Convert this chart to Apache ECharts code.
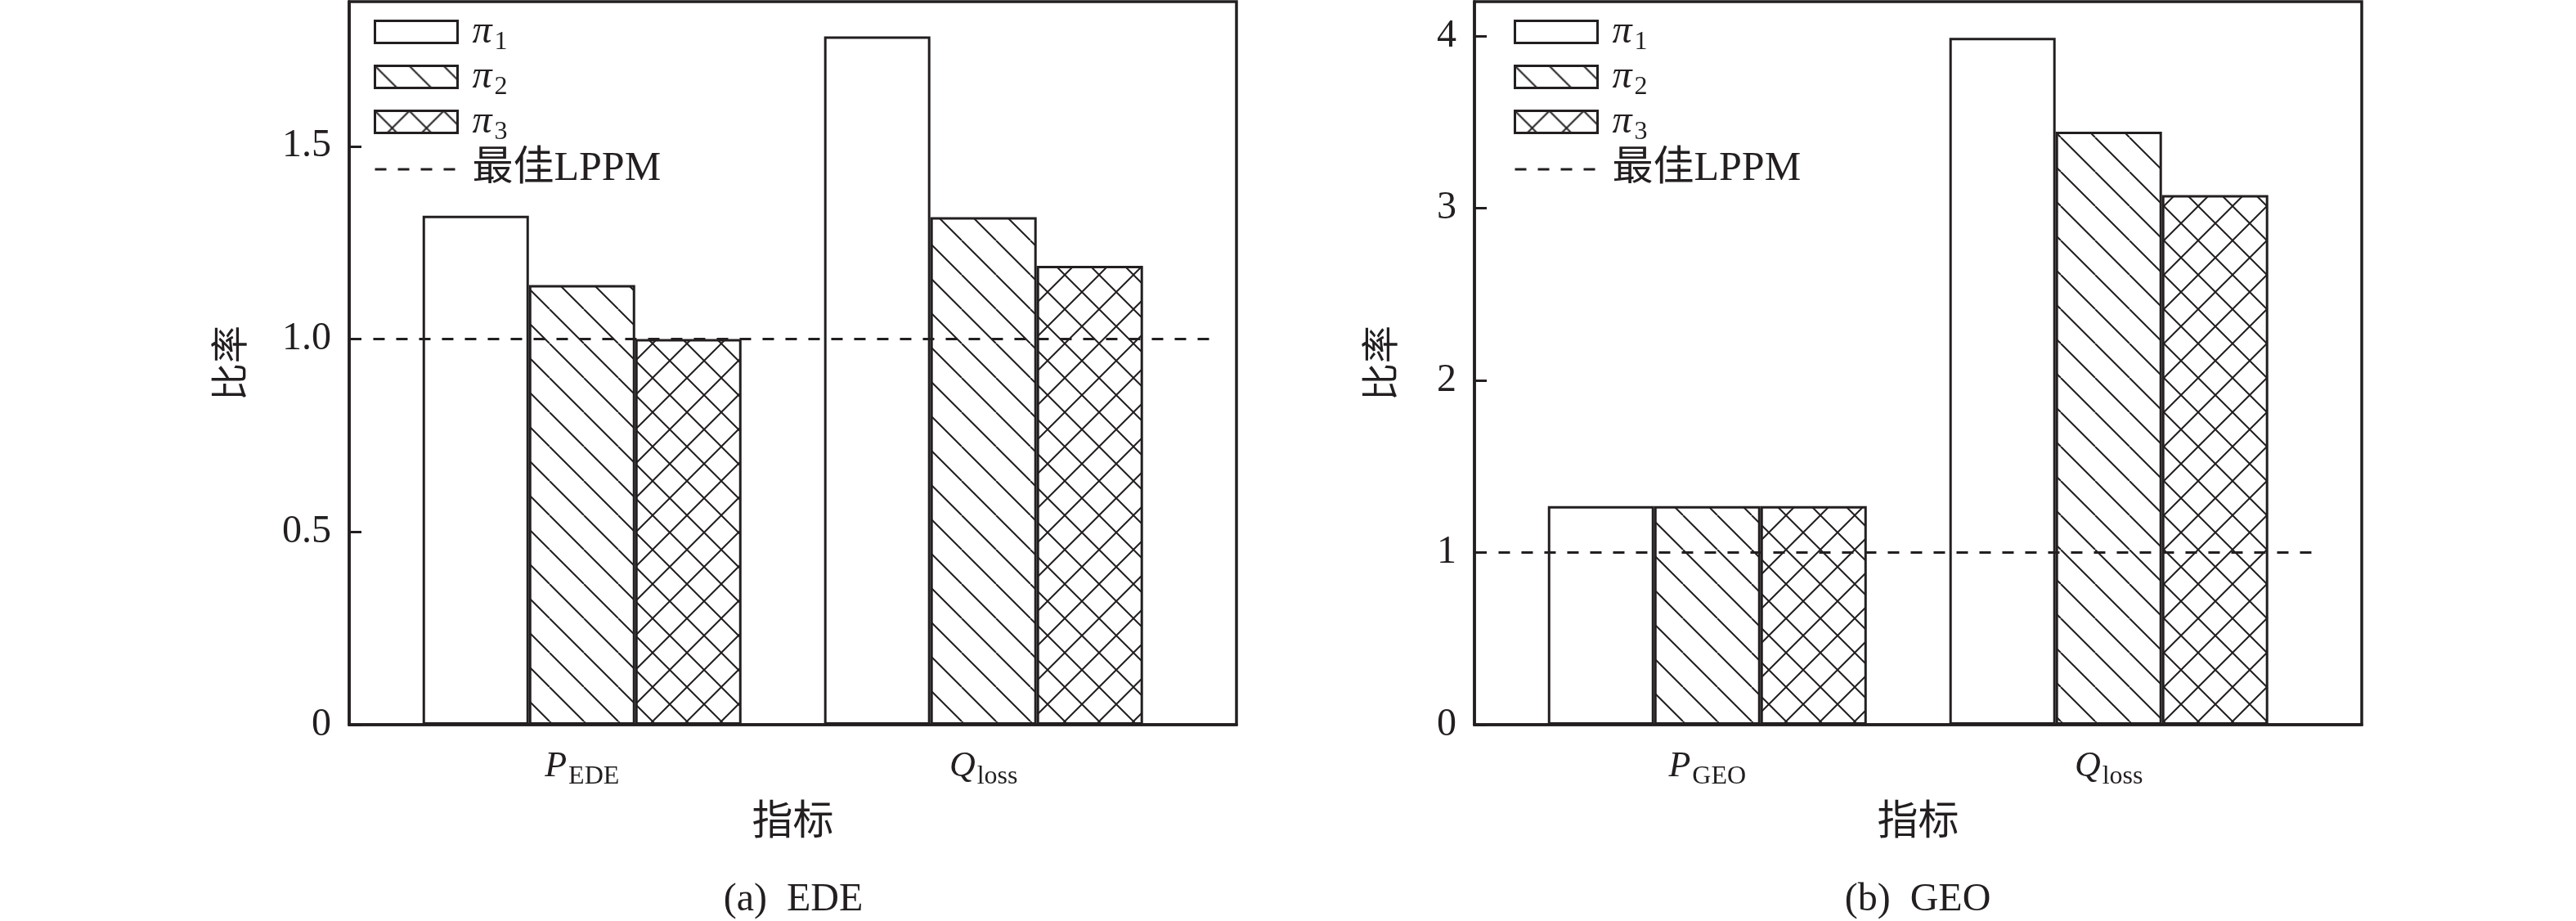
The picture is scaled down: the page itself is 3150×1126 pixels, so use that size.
<!DOCTYPE html>
<html>
<head>
<meta charset="utf-8">
<script src="https://cdn.jsdelivr.net/npm/echarts@6/dist/echarts.min.js"></script>
<style>
html,body{margin:0;padding:0;background:#fff;}
#c{width:3150px;height:1126px;}
</style>
</head>
<body>
<div id="c"></div>
<script>
// ---------- data ----------
const seriesNames = ['π1', 'π2', 'π3', '最佳LPPM'];
const xPos = [1, 2];
const catLabelsA = [['P', 'EDE'], ['Q', 'loss']];
const catLabelsB = [['P', 'GEO'], ['Q', 'loss']];
const pi1A = [1.32, 1.785];
const pi2A = [1.14, 1.316];
const pi3A = [1.00, 1.19];
const pi1B = [1.27, 3.99];
const pi2B = [1.27, 3.445];
const pi3B = [1.27, 3.076];
const bestLevel = 1;
const bestSpanA = [0.48, 2.59];
const bestSpanB = [0.48, 2.53];
const yTicksA = [0, 0.5, 1.0, 1.5];
const yTickLabelsA = ['0', '0.5', '1.0', '1.5'];
const yTicksB = [0, 1, 2, 3, 4];
const yTickLabelsB = ['0', '1', '2', '3', '4'];
const yMaxA = 1.875;
const yMaxB = 4.2;
const xMin = 0.42, xMax = 2.63;
const yName = '比率';
const xName = '指标';
const captionA = '(a)  EDE';
const captionB = '(b)  GEO';

// ---------- styling ----------
const INK = '#231f20';
const FONT = "'Liberation Serif','Times New Roman','Noto Sans CJK SC',serif";

function makeHatch(cross) {
  const s = 42;
  const c = document.createElement('canvas');
  c.width = s; c.height = s;
  const ctx = c.getContext('2d');
  ctx.fillStyle = '#fff';
  ctx.fillRect(0, 0, s, s);
  ctx.strokeStyle = INK;
  ctx.lineWidth = 2;
  ctx.beginPath();
  for (let k = -1; k <= 1; k++) {
    ctx.moveTo(k * s, 0); ctx.lineTo(k * s + s, s);
    if (cross) { ctx.moveTo(k * s, s); ctx.lineTo(k * s + s, 0); }
  }
  ctx.stroke();
  return c;
}
const fills = ['#ffffff', { image: makeHatch(false), repeat: 'repeat' }, { image: makeHatch(true), repeat: 'repeat' }];

const grids = [
  { left: 427, top: 2, width: 1085, height: 884 },
  { left: 1803, top: 2, width: 1085, height: 884 }
];

function xAxisFor(idx, labels) {
  return {
    gridIndex: idx, type: 'value', min: xMin, max: xMax,
    axisLine: { show: true, lineStyle: { color: INK, width: 3.5 } },
    axisTick: { show: false },
    splitLine: { show: false },
    axisLabel: {
      customValues: xPos,
      margin: 26,
      formatter: function (v) {
        const i = xPos.indexOf(v);
        if (i < 0) return '';
        return '{it|' + labels[i][0] + '}{sub|' + labels[i][1] + '}';
      },
      rich: {
        it: { fontFamily: FONT, fontStyle: 'italic', fontSize: 44, color: INK, lineHeight: 50 },
        sub: { fontFamily: FONT, fontSize: 32, color: INK, padding: [26, 0, 0, 2], lineHeight: 32 }
      }
    },
    name: xName, nameLocation: 'middle', nameGap: 96,
    nameTextStyle: { fontFamily: FONT, fontSize: 50, color: INK }
  };
}
function yAxisFor(idx, max, ticks, tickLabels, gap) {
  return {
    gridIndex: idx, type: 'value', min: 0, max: max,
    axisLine: { show: true, lineStyle: { color: INK, width: 3.5 } },
    axisTick: { show: true, inside: true, length: 15, lineStyle: { color: INK, width: 3 }, customValues: ticks },
    splitLine: { show: false },
    axisLabel: {
      customValues: ticks, margin: 22,
      fontFamily: FONT, fontSize: 48, color: INK,
      formatter: function (v) {
        const i = ticks.indexOf(v);
        return i < 0 ? '' : tickLabels[i];
      }
    },
    name: yName, nameLocation: 'middle', nameGap: gap, nameRotate: 90,
    nameTextStyle: { fontFamily: FONT, fontSize: 46, color: INK }
  };
}

function barSeries(idx, name, vals, fill) {
  return {
    type: 'bar', name: name, xAxisIndex: idx, yAxisIndex: idx,
    data: xPos.map((x, i) => [x, vals[i]]),
    barWidth: 130, barGap: '0%',
    itemStyle: { color: fill, borderColor: INK, borderWidth: 3 },
    z: 2
  };
}
function bestSeries(idx, span) {
  return {
    type: 'line', name: seriesNames[3], xAxisIndex: idx, yAxisIndex: idx,
    data: [[span[0], bestLevel], [span[1], bestLevel]],
    symbol: 'none', z: 5,
    itemStyle: { color: INK },
    lineStyle: { color: INK, width: 3, type: [14, 14] }
  };
}

function legendFor(left) {
  return {
    left: left, top: 10, orient: 'vertical', padding: 0,
    itemWidth: 101, itemHeight: 27, itemGap: -3,
    selectedMode: false,
    itemStyle: { borderWidth: 3, borderColor: INK },
    lineStyle: { width: 3 },
    data: [
      { name: seriesNames[0], icon: 'rect' },
      { name: seriesNames[1], icon: 'rect' },
      { name: seriesNames[2], icon: 'rect' },
      { name: seriesNames[3],
        itemStyle: { opacity: 0, color: 'transparent', borderWidth: 0 },
        textStyle: { lineHeight: 64, fontSize: 50, fontFamily: FONT, color: INK } }
    ],
    formatter: function (name) {
      if (name.charAt(0) === 'π') return '{pi|π}{sub|' + name.slice(1) + '}';
      return name;
    },
    textStyle: {
      fontFamily: FONT, fontSize: 50, color: INK, lineHeight: 56, padding: [0, 0, 0, 13],
      rich: {
        pi: { fontFamily: FONT, fontStyle: 'italic', fontSize: 48, color: INK, lineHeight: 56 },
        sub: { fontFamily: FONT, fontSize: 32, color: INK, padding: [26, 0, 0, 3], lineHeight: 28 }
      }
    }
  };
}

const chart = echarts.init(document.getElementById('c'), null, { renderer: 'canvas' });
chart.setOption({
  animation: false,
  backgroundColor: '#ffffff',
  grid: grids.map(g => Object.assign({ show: true, borderColor: INK, borderWidth: 3.5, backgroundColor: 'transparent' }, g)),
  xAxis: [xAxisFor(0, catLabelsA), xAxisFor(1, catLabelsB)],
  yAxis: [yAxisFor(0, yMaxA, yTicksA, yTickLabelsA, 119), yAxisFor(1, yMaxB, yTicksB, yTickLabelsB, 88)],
  legend: [legendFor(457), legendFor(1851)],
  series: [
    barSeries(0, seriesNames[0], pi1A, fills[0]),
    barSeries(0, seriesNames[1], pi2A, fills[1]),
    barSeries(0, seriesNames[2], pi3A, fills[2]),
    bestSeries(0, bestSpanA),
    barSeries(1, seriesNames[0], pi1B, fills[0]),
    barSeries(1, seriesNames[1], pi2B, fills[1]),
    barSeries(1, seriesNames[2], pi3B, fills[2]),
    bestSeries(1, bestSpanB)
  ],
  graphic: [
    { type: 'text', x: 970, y: 1100, style: { text: captionA, x: 0, y: 0, align: 'center', verticalAlign: 'middle', fontFamily: FONT, fontSize: 48, fill: INK } },
    { type: 'text', x: 2345, y: 1100, style: { text: captionB, x: 0, y: 0, align: 'center', verticalAlign: 'middle', fontFamily: FONT, fontSize: 48, fill: INK } }
  ]
});
</script>
</body>
</html>
